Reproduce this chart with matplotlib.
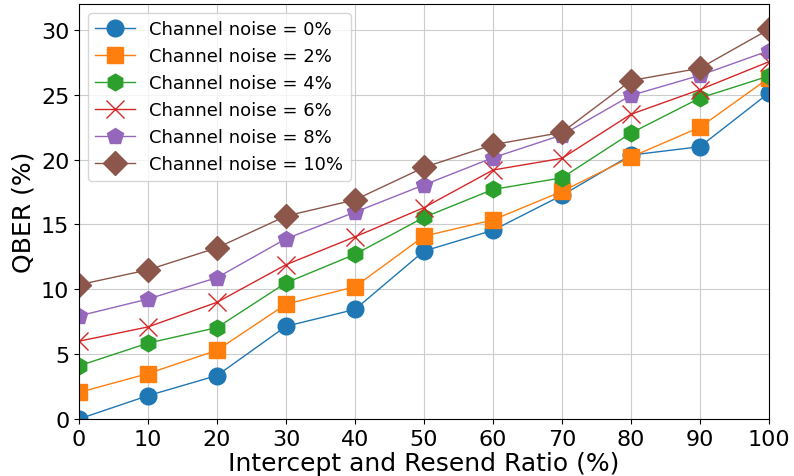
import numpy as np
import matplotlib
matplotlib.use('Agg')
import matplotlib.pyplot as plt

# intercept-resend ratio (%) on the x axis
ratio = [0, 10, 20, 30, 40, 50, 60, 70, 80, 90, 100]

# QBER (%) for each channel noise level
qber_0 = [0.0, 1.8, 3.35, 7.15, 8.45, 12.95, 14.55, 17.25, 20.35, 21.0, 25.15]
qber_2 = [2.05, 3.5, 5.3, 8.85, 10.2, 14.1, 15.35, 17.55, 20.2, 22.5, 26.3]
qber_4 = [4.1, 5.85, 7.05, 10.5, 12.7, 15.55, 17.7, 18.6, 22.05, 24.75, 26.45]
qber_6 = [6.0, 7.1, 9.0, 11.9, 14.05, 16.3, 19.2, 20.1, 23.5, 25.4, 27.55]
qber_8 = [7.95, 9.25, 10.9, 13.9, 15.95, 18.05, 20.15, 21.9, 24.95, 26.5, 28.4]
qber_10 = [10.35, 11.5, 13.2, 15.65, 16.9, 19.4, 21.15, 22.1, 26.1, 27.05, 30.05]

noise_levels = [0, 2, 4, 6, 8, 10]
series = [qber_0, qber_2, qber_4, qber_6, qber_8, qber_10]
markers = ['o', 's', 'h', 'x', 'p', 'D']


def main():
    fig = plt.figure(figsize=(7.94, 4.77), dpi=100)
    ax = fig.add_axes([0.0995, 0.1195, 0.869, 0.87])

    for noise, vals, m in zip(noise_levels, series, markers):
        ms = 12
        if m == 'x':
            ms = 13
        ax.plot(ratio, vals, marker=m, ms=ms, lw=1.0, mew=1.0 if m == 'x' else 1.0,
                label=f'Channel noise = {noise}%')

    ax.set_xlim(0, 100)
    ax.set_ylim(0, 32)
    ax.set_xticks(np.arange(0, 101, 10))
    ax.set_yticks(np.arange(0, 31, 5))
    ax.tick_params(labelsize=16)
    ax.set_xlabel('Intercept and Resend Ratio (%)', fontsize=18, labelpad=2)
    ax.set_ylabel('QBER (%)', fontsize=18, labelpad=4)
    ax.grid(True, color='#cccccc', lw=0.8)
    ax.legend(loc='upper left', fontsize=13, handlelength=2.2)

    fig.savefig('out.png', dpi=100)
    plt.close(fig)


if __name__ == '__main__':
    main()
